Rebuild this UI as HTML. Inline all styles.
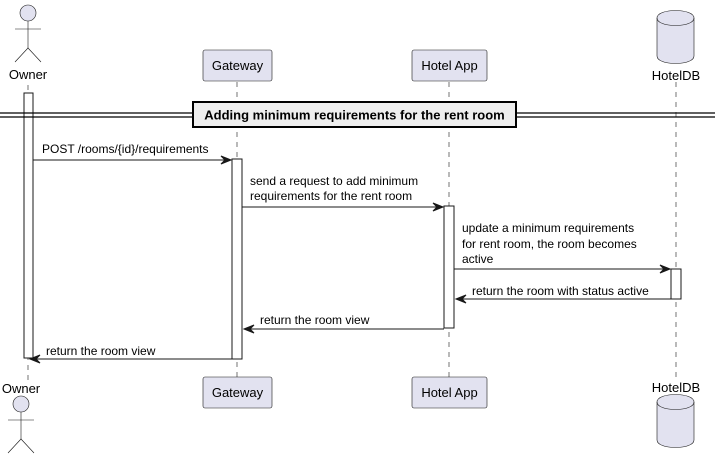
<!DOCTYPE html>
<html><head><style>body{margin:0;background:#fff}svg{display:block}</style></head><body>
<svg width="715" height="459" xmlns="http://www.w3.org/2000/svg" font-family="Liberation Sans, sans-serif">
<g stroke="#181818" stroke-dasharray="5,5" stroke-width="0.6">
<line x1="28" y1="85" x2="28" y2="380"/><line x1="237" y1="82" x2="237" y2="377"/>
<line x1="449" y1="82" x2="449" y2="377"/><line x1="676" y1="82" x2="676" y2="380"/>
</g>
<g fill="#E2E2F0" stroke="#181818" stroke-width="0.6">
<circle cx="28" cy="13" r="8"/><line x1="28" y1="21" x2="28" y2="48"/><line x1="15" y1="29" x2="41" y2="29"/>
<polyline points="15,62 28,48 41,62" fill="none"/>
<circle cx="21" cy="404" r="8"/><line x1="21" y1="412" x2="21" y2="439"/><line x1="8" y1="420" x2="34" y2="420"/>
<polyline points="8,453 21,439 34,453" fill="none"/>
<rect x="203" y="50" width="69" height="31" rx="2"/><rect x="412" y="50" width="75" height="31" rx="2"/>
<rect x="203" y="377" width="69" height="31" rx="2"/><rect x="412" y="377" width="75" height="31" rx="2"/>
<path d="M657,18 C657,8 694,8 694,18 L694,56 C694,66 657,66 657,56 Z"/><path d="M657,18 C657,28 694,28 694,18" fill="none"/>
<path d="M657,402 C657,392 694,392 694,402 L694,440 C694,450 657,450 657,440 Z"/><path d="M657,402 C657,412 694,412 694,402" fill="none"/>
</g>
<g font-size="13" fill="#000">
<text x="28" y="79" text-anchor="middle">Owner</text><text x="21" y="393" text-anchor="middle">Owner</text>
<text x="237.5" y="70" text-anchor="middle">Gateway</text><text x="237.5" y="397" text-anchor="middle">Gateway</text>
<text x="449.5" y="70" text-anchor="middle">Hotel App</text><text x="449.5" y="397" text-anchor="middle">Hotel App</text>
<text x="676" y="80" text-anchor="middle">HotelDB</text><text x="676" y="392" text-anchor="middle">HotelDB</text>
</g>
<g fill="#fff" stroke="#181818" stroke-width="1">
<rect x="24" y="93" width="9" height="265"/><rect x="232" y="159" width="10" height="200"/>
<rect x="444" y="206" width="10" height="122"/><rect x="671" y="269" width="10" height="30"/>
</g>
<g stroke="#000" stroke-width="1.2"><line x1="0" y1="113" x2="715" y2="113"/><line x1="0" y1="117" x2="715" y2="117"/></g>
<rect x="193" y="102" width="323" height="25" fill="#EEE" stroke="#000" stroke-width="2"/>
<text x="354.5" y="119.5" font-size="13" font-weight="bold" text-anchor="middle">Adding minimum requirements for the rent room</text>
<g stroke="#181818" stroke-width="1" fill="#181818">
<line x1="33" y1="160" x2="230" y2="160"/><path d="M231,160 l-10,-4 l4,4 l-4,4z"/>
<line x1="242" y1="207" x2="442" y2="207"/><path d="M443,207 l-10,-4 l4,4 l-4,4z"/>
<line x1="454" y1="269" x2="669" y2="269"/><path d="M670,269 l-10,-4 l4,4 l-4,4z"/>
<line x1="457" y1="299" x2="671" y2="299"/><path d="M456,299 l10,-4 l-4,4 l4,4z"/>
<line x1="245" y1="329" x2="444" y2="329"/><path d="M244,329 l10,-4 l-4,4 l4,4z"/>
<line x1="31" y1="359" x2="232" y2="359"/><path d="M30,359 l10,-4 l-4,4 l4,4z"/>
</g>
<g font-size="12" fill="#000">
<text x="42" y="153">POST /rooms/{id}/requirements</text>
<text x="250" y="185">send a request to add minimum</text><text x="250" y="200">requirements for the rent room</text>
<text x="462" y="232">update a minimum requirements</text><text x="462" y="248"> for rent room, the room becomes</text><text x="462" y="263"> active</text>
<text x="472" y="295">return the room with status active</text>
<text x="260" y="324">return the room view</text>
<text x="46" y="355">return the room view</text>
</g>
</svg>
</body></html>
